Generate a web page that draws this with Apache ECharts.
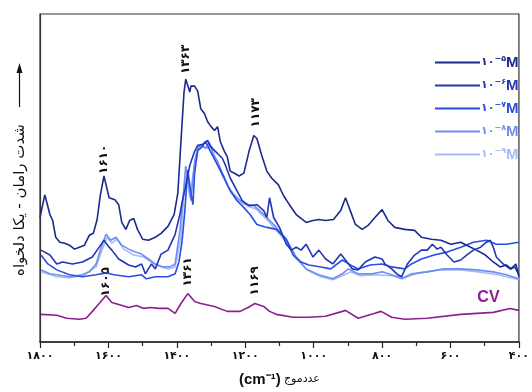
<!DOCTYPE html>
<html>
<head>
<meta charset="utf-8">
<script src="https://cdn.jsdelivr.net/npm/echarts@6/dist/echarts.min.js"></script>
<style>
  html, body { margin: 0; padding: 0; background: #fff; }
  #chart { width: 532px; height: 392px; }
</style>
</head>
<body>
<div id="chart"></div>
<script>
// wavenumber (cm-1) and intensity (arb. units)
var wn5 = [1800,1786,1771,1763,1754,1742,1728,1714,1699,1685,1670,1656,1644,1633,1624,1613,1598,1581,1570,1561,1549,1538,1526,1515,1500,1483,1463,1446,1426,1408,1397,1388,1379,1374,1362,1359,1348,1339,1330,1319,1310,1302,1290,1281,1273,1261,1253,1244,1233,1218,1204,1189,1175,1166,1152,1137,1123,1103,1088,1071,1051,1022,1002,985,965,942,921,907,893,878,858,841,821,800,783,763,734,705,685,656,628,599,570,553,524,498,475,455,437,423,409,400];
var int5 = [126,149,129,123,106,101,100,98,94,96,98,108,110,124,148,168,146,144,139,121,114,123,125,114,104,103,106,110,117,129,151,203,253,266,253,259,259,254,236,231,223,219,214,218,203,193,188,173,171,168,171,193,209,206,189,173,166,159,148,139,129,121,123,124,123,124,133,146,133,119,114,118,126,134,123,116,114,113,106,104,103,99,101,98,93,88,81,76,78,74,79,66];

var wn6 = [1797,1771,1751,1734,1705,1676,1647,1627,1613,1598,1590,1570,1541,1521,1503,1492,1474,1463,1446,1426,1405,1391,1385,1377,1362,1348,1339,1325,1310,1302,1287,1276,1267,1258,1244,1224,1209,1189,1166,1146,1137,1129,1117,1100,1080,1065,1051,1037,1022,1002,985,965,944,921,907,887,870,849,821,800,792,772,754,743,726,705,685,668,653,639,628,610,590,570,553,533,512,495,484,475,466,446,426,412,400];
var int6 = [93,88,79,81,79,81,86,96,103,96,93,84,78,76,79,69,79,74,89,93,109,129,141,153,179,193,199,200,204,198,193,189,186,179,166,153,143,138,139,133,126,146,126,116,99,93,96,93,99,86,93,84,79,89,83,74,73,81,86,84,79,74,68,66,79,88,93,93,99,94,96,88,81,83,88,93,96,101,103,96,86,79,74,76,68];

var wn7 = [1797,1777,1751,1714,1676,1636,1607,1584,1541,1503,1489,1463,1426,1405,1394,1385,1377,1368,1359,1353,1348,1339,1325,1316,1302,1281,1261,1244,1224,1204,1186,1166,1137,1109,1080,1060,1037,1014,979,950,916,893,870,835,800,772,734,714,685,648,610,570,533,495,466,437,400];
var int7 = [88,79,73,68,66,68,70,68,66,68,64,66,66,69,81,101,131,174,151,139,171,194,198,203,193,179,166,153,143,136,129,119,116,114,104,88,81,78,76,74,83,78,74,78,79,76,74,79,84,88,91,96,101,103,99,99,101];

var wn8 = [1797,1771,1751,1714,1676,1656,1636,1621,1607,1593,1578,1561,1541,1521,1503,1483,1463,1440,1420,1405,1391,1382,1374,1368,1359,1348,1339,1328,1316,1305,1293,1281,1267,1253,1238,1224,1204,1175,1158,1137,1109,1080,1051,1022,985,944,916,899,870,829,800,772,743,714,668,619,570,524,475,437,400];
var int8 = [73,69,68,66,68,71,79,96,109,103,106,98,94,91,89,84,79,76,76,79,113,146,178,168,143,183,196,200,196,202,189,183,171,159,151,146,140,138,133,126,116,104,86,74,68,64,69,74,69,69,71,68,64,69,71,74,74,73,71,68,64];

var wn9 = [1797,1751,1714,1676,1636,1621,1604,1590,1575,1555,1526,1497,1463,1426,1405,1388,1379,1371,1362,1351,1339,1325,1310,1299,1287,1267,1247,1224,1195,1166,1137,1109,1080,1051,1016,979,944,916,893,864,821,772,734,691,633,570,518,461,400];
var int9 = [71,66,65,67,76,91,106,100,104,94,88,86,78,74,76,106,151,171,146,174,193,198,196,199,186,168,156,144,138,134,124,113,101,84,72,66,63,67,71,67,68,67,65,70,73,73,71,68,63];

var wnCV = [1797,1751,1722,1685,1665,1647,1627,1607,1590,1570,1541,1518,1497,1477,1454,1426,1405,1388,1368,1348,1330,1290,1253,1215,1186,1172,1146,1129,1109,1060,1014,965,916,907,870,821,803,772,734,668,570,475,426,400];
var intCV = [28,27,24,23,24,31,39,47,40,38,35,37,34,35,34,34,29,39,49,41,39,36,31,31,36,39,36,31,28,25,25,26,31,32,24,29,31,25,23,24,28,30,34,32];

var xTicks = [1800, 1600, 1400, 1200, 1000, 800, 600, 400];
var seriesNames = ['۵', '۶', '۷', '۸', '۹'];
var seriesColors = ['#1b2a8c', '#2236b8', '#2a4de2', '#6f8ef3', '#a6baf8'];

// peak labels: [wavenumber, intensity, text]
var peakLabels = [
    [1374, 286, '1363'],
    [1613, 185, '1610'],
    [1169, 232, '1173'],
    [1607, 61, '1605'],
    [1368, 71, '1361'],
    [1172, 62, '1169']
];

var FA = '۰۱۲۳۴۵۶۷۸۹';
function toFa(s) {
    return String(s).replace(/[0-9]/g, function (d) { return FA[+d]; });
}
function zip(a, b) {
    var out = [];
    for (var i = 0; i < a.length; i++) out.push([a[i], b[i]]);
    return out;
}

var aData = [zip(wn5, int5), zip(wn6, int6), zip(wn7, int7), zip(wn8, int8), zip(wn9, int9)];
var aSeries = [];
for (var i = 0; i < 5; i++) {
    aSeries.push({
        name: seriesNames[i],
        type: 'line',
        data: aData[i],
        showSymbol: false,
        lineStyle: {color: seriesColors[i], width: 1.6},
        itemStyle: {color: seriesColors[i]},
        z: 10 - i
    });
}
aSeries.push({
    name: 'CV',
    type: 'line',
    data: zip(wnCV, intCV),
    showSymbol: false,
    lineStyle: {color: '#8c1f8c', width: 1.6},
    itemStyle: {color: '#8c1f8c'}
});

var myChart = echarts.init(document.getElementById('chart'));
var jOption = {
    animation: false,
    backgroundColor: '#fff',
    grid: {left: 40, right: 6, top: 14, bottom: 46, show: true, borderColor: '#333', borderWidth: 1.2},
    legend: {
        data: seriesNames.map(function (n, i) {
            return {name: n, textStyle: {color: seriesColors[i]}};
        }),
        orient: 'vertical',
        left: 430,
        top: 50,
        icon: 'rect',
        itemWidth: 45,
        itemHeight: 2,
        itemGap: 8,
        formatter: function (name) {
            return '{a|۱۰}{s|−' + name + '}{m|M}';
        },
        textStyle: {
            fontFamily: 'DejaVu Sans',
            padding: [0, 0, 0, -4],
            rich: {
                a: {fontSize: 11, fontWeight: 'bold', fontFamily: 'DejaVu Sans'},
                s: {fontSize: 8, fontWeight: 'bold', fontFamily: 'DejaVu Sans', verticalAlign: 'top', padding: [0, 0, 6, 0]},
                m: {fontSize: 15, fontWeight: 'bold', fontFamily: 'Liberation Sans'}
            }
        }
    },
    xAxis: {
        type: 'value',
        min: 400,
        max: 1800,
        interval: 200,
        inverse: true,
        name: '{c|(cm⁻¹)} {f|عددموج}',
        nameLocation: 'middle',
        nameGap: 30,
        nameTextStyle: {
            rich: {
                c: {fontSize: 15, fontWeight: 'bold', fontFamily: 'Liberation Sans', color: '#111'},
                f: {fontSize: 11, fontFamily: 'DejaVu Sans', color: '#111'}
            }
        },
        axisLine: {lineStyle: {color: '#222', width: 1.5}},
        axisTick: {length: 6, lineStyle: {color: '#222', width: 1.2}},
        minorTick: {show: true, splitNumber: 2, length: 4, lineStyle: {color: '#222', width: 1.2}},
        splitLine: {show: false},
        axisLabel: {
            margin: 9,
            fontSize: 11,
            fontWeight: 'bold',
            fontFamily: 'DejaVu Sans',
            color: '#111',
            formatter: function (v) { return toFa(v); }
        }
    },
    yAxis: {
        type: 'value',
        min: 0,
        max: 332,
        axisLine: {show: true, lineStyle: {color: '#333', width: 1.2}},
        axisTick: {show: false},
        axisLabel: {show: false},
        splitLine: {show: false}
    },
    series: aSeries
};
myChart.setOption(jOption);

// annotations placed in data coordinates
var aGraphic = [];
peakLabels.forEach(function (p) {
    var pt = myChart.convertToPixel({gridIndex: 0}, [p[0], p[1]]);
    aGraphic.push({
        type: 'text',
        x: pt[0],
        y: pt[1],
        rotation: Math.PI / 2,
        style: {
            text: toFa(p[2]),
            font: 'bold 12px "DejaVu Sans"',
            fill: '#111',
            align: 'center',
            verticalAlign: 'middle'
        }
    });
});
var cvPt = myChart.convertToPixel({gridIndex: 0}, [489, 45]);
aGraphic.push({
    type: 'text',
    x: cvPt[0],
    y: cvPt[1],
    style: {text: 'CV', font: 'bold 16px "Liberation Sans"', fill: '#8c1f8c', align: 'center', verticalAlign: 'middle'}
});
// y axis title with arrow
aGraphic.push({
    type: 'text',
    x: 20,
    y: 200,
    rotation: Math.PI / 2,
    style: {text: 'شدت رامان - یکا دلخواه', font: '15px "DejaVu Sans"', fill: '#111', align: 'center', verticalAlign: 'middle'}
});
aGraphic.push({
    type: 'line',
    shape: {x1: 19.5, y1: 107, x2: 19.5, y2: 72},
    style: {stroke: '#111', lineWidth: 1.2}
});
aGraphic.push({
    type: 'polygon',
    shape: {points: [[19.5, 63], [16.5, 73], [22.5, 73]]},
    style: {fill: '#111'}
});
myChart.setOption({graphic: aGraphic});
</script>
</body>
</html>
